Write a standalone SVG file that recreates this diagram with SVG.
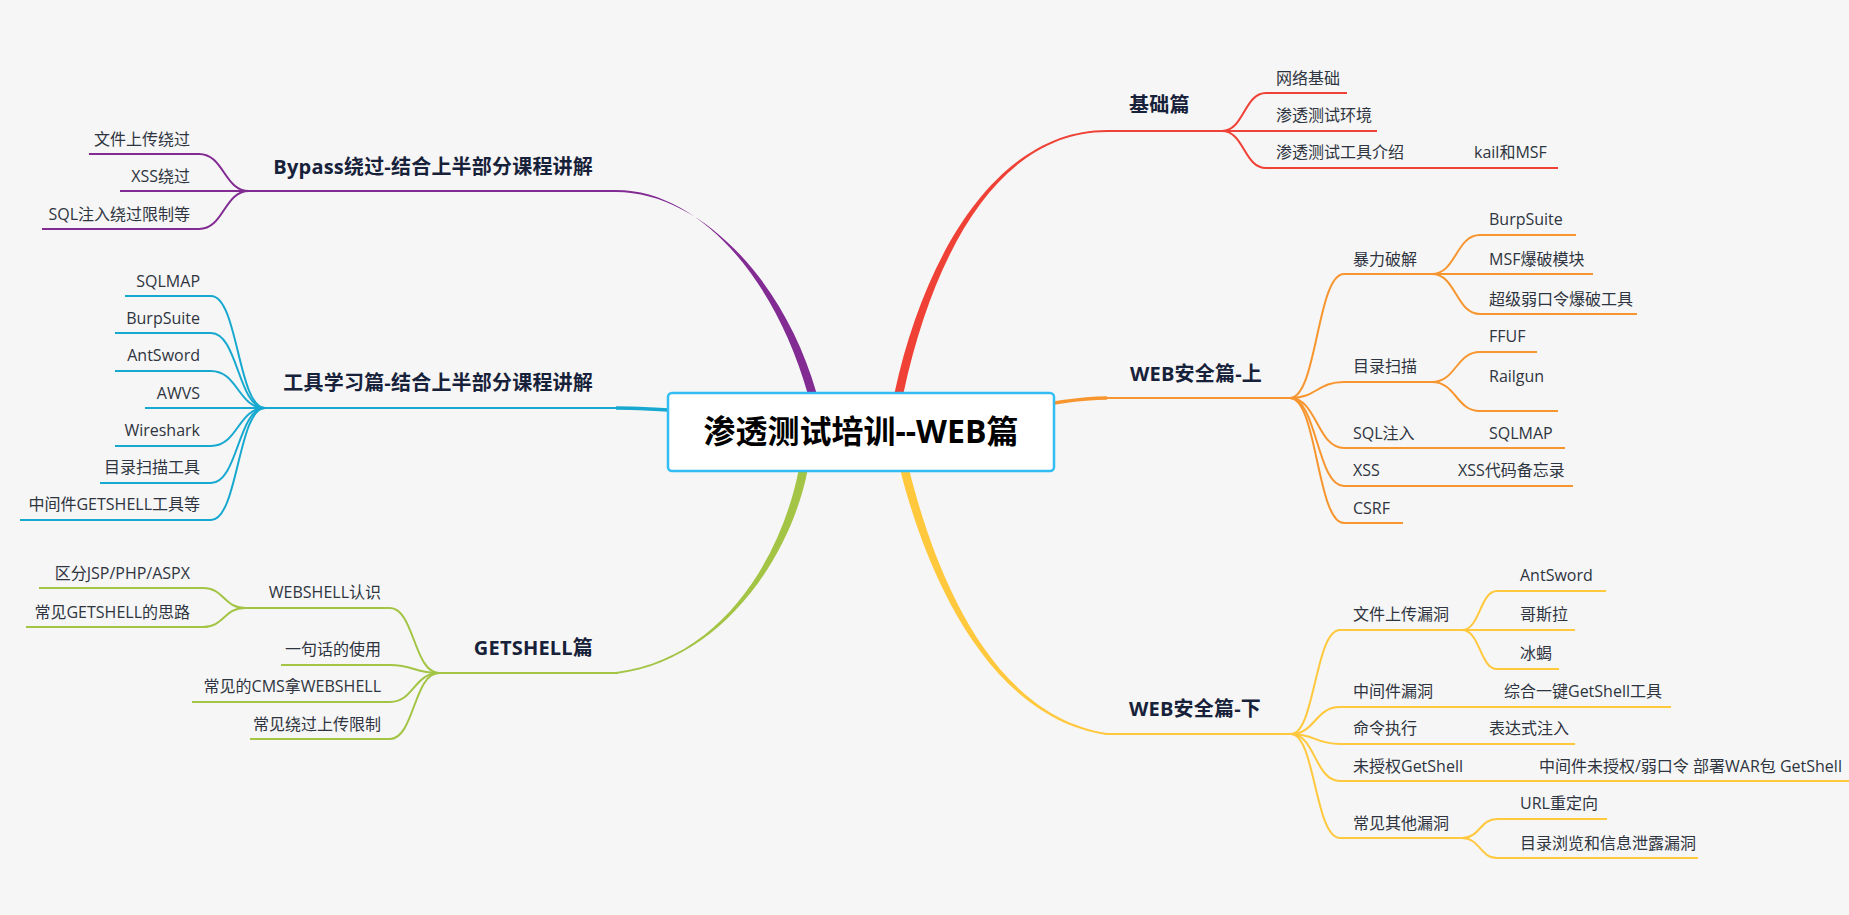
<svg xmlns="http://www.w3.org/2000/svg" width="1849" height="915" viewBox="0 0 1849 915">
<style>
.t{font-family:"Open Sans","Noto Sans CJK SC",sans-serif;font-size:16px;fill:#2e3440}
.h{font-family:"Open Sans","Noto Sans CJK SC",sans-serif;font-size:20px;font-weight:bold;fill:#17223a;letter-spacing:0.2px}
.e{text-anchor:end}
.c path{fill:none;stroke-width:2}
.pu path{stroke:#812b93}
.cy path{stroke:#17a8cf}
.gr path{stroke:#a3c444}
.re path{stroke:#ef4136}
.or path{stroke:#f7952e}
.ye path{stroke:#ffc83d}
</style>
<rect width="1849" height="915" fill="#f6f6f6"/>
<g id="connectors">
<path d="M616,190 C700,190 775.5,280 807.5,393 L816.5,393 C784.5,280 700,192 616,192 Z" fill="#812b93"/>
<path d="M1107,130 C1000,130 925.5,250 894.5,393 L903.5,393 C934.5,250 1000,132 1107,132 Z" fill="#ef4136"/>
<path d="M798.5,471 C780.5,560 720,659 616,672 L616,674 C720,661 789.5,560 807.5,471 Z" fill="#a3c444"/>
<path d="M900.5,471 C920.5,550 978,716 1107,735 L1107,733 C982,714 929.5,550 909.5,471 Z" fill="#ffc83d"/>
<path d="M1054,403 C1075,400 1085,398 1107,398" fill="none" stroke="#f7952e" stroke-width="3.5"/>
<path d="M668,410 C645,409 635,408 616,408" fill="none" stroke="#17a8cf" stroke-width="3.5"/>
<g class="c pu">
<path d="M249,191 H618"/>
<path d="M249,191 C224,191 224,154 199,154 H89"/>
<path d="M249,191 H120"/>
<path d="M249,191 C224,191 224,229 199,229 H42"/>
</g>
<g class="c cy">
<path d="M265,408 H618"/>
<path d="M265,408 C238,408 238,296 211,296 H125"/>
<path d="M265,408 C238,408 238,333 211,333 H115"/>
<path d="M265,408 C238,408 238,371 211,371 H115"/>
<path d="M265,408 H145"/>
<path d="M265,408 C238,408 238,446 211,446 H115"/>
<path d="M265,408 C238,408 238,483 211,483 H100"/>
<path d="M265,408 C238,408 238,520 211,520 H20"/>
</g>
<g class="c gr">
<path d="M439,673 H618"/>
<path d="M439,673 C414,673 414,608 390,608 H245"/>
<path d="M245,608 C224,608 224,588 203,588 H39"/>
<path d="M245,608 C224,608 224,627 203,627 H26"/>
<path d="M439,673 C414,673 414,665 390,665 H281"/>
<path d="M439,673 C414,673 414,702 390,702 H192"/>
<path d="M439,673 C414,673 414,739 390,739 H250"/>
</g>
<g class="c re">
<path d="M1105,131 H1222"/>
<path d="M1222,131 C1244,131 1244,93 1266,93 H1347"/>
<path d="M1222,131 H1377"/>
<path d="M1222,131 C1244,131 1244,168 1266,168 H1558"/>
</g>
<g class="c or">
<path d="M1105,398 H1290"/>
<path d="M1290,398 C1317,398 1317,274 1344,274 H1432"/>
<path d="M1432,274 C1456,274 1456,235 1480,235 H1576"/>
<path d="M1432,274 H1593"/>
<path d="M1432,274 C1456,274 1456,314 1480,314 H1637"/>
<path d="M1290,398 C1317,398 1317,382 1344,382 H1432"/>
<path d="M1432,382 C1456,382 1456,352 1480,352 H1537"/>
<path d="M1432,382 C1456,382 1456,411 1480,411 H1558"/>
<path d="M1290,398 C1317,398 1317,448 1344,448 H1565"/>
<path d="M1290,398 C1317,398 1317,486 1344,486 H1573"/>
<path d="M1290,398 C1317,398 1317,523 1344,523 H1403"/>
</g>
<g class="c ye">
<path d="M1105,734 H1291"/>
<path d="M1291,734 C1315,734 1315,630 1340,630 H1462"/>
<path d="M1462,630 C1480,630 1480,591 1497,591 H1606"/>
<path d="M1462,630 H1575"/>
<path d="M1462,630 C1480,630 1480,669 1497,669 H1559"/>
<path d="M1291,734 C1315,734 1315,707 1340,707 H1671"/>
<path d="M1291,734 C1315,734 1315,744 1340,744 H1575"/>
<path d="M1291,734 C1315,734 1315,781 1340,781 H1849"/>
<path d="M1291,734 C1315,734 1315,838 1340,838 H1462"/>
<path d="M1462,838 C1480,838 1480,819 1497,819 H1607"/>
<path d="M1462,838 C1480,838 1480,858 1497,858 H1698"/>
</g>
</g>
<g id="root">
<rect x="668" y="393" width="386" height="78" rx="4" fill="#ffffff" stroke="#33bdf5" stroke-width="2.5"/>
<text x="861" y="443" text-anchor="middle" font-family="'Open Sans','Noto Sans CJK SC',sans-serif" font-size="32" font-weight="bold" fill="#000">渗透测试培训--WEB篇</text>
</g>
<g id="bypass"><text class="h e" x="593" y="174">Bypass绕过-结合上半部分课程讲解</text></g>
<g id="bypass-1"><text class="t e" x="190" y="145">文件上传绕过</text></g>
<g id="bypass-2"><text class="t e" x="190" y="182">XSS绕过</text></g>
<g id="bypass-3"><text class="t e" x="190" y="220">SQL注入绕过限制等</text></g>
<g id="tools"><text class="h e" x="593" y="390">工具学习篇-结合上半部分课程讲解</text></g>
<g id="tools-1"><text class="t e" x="200" y="287">SQLMAP</text></g>
<g id="tools-2"><text class="t e" x="200" y="324">BurpSuite</text></g>
<g id="tools-3"><text class="t e" x="200" y="361">AntSword</text></g>
<g id="tools-4"><text class="t e" x="200" y="399">AWVS</text></g>
<g id="tools-5"><text class="t e" x="200" y="436">Wireshark</text></g>
<g id="tools-6"><text class="t e" x="200" y="473">目录扫描工具</text></g>
<g id="tools-7"><text class="t e" x="200" y="510">中间件GETSHELL工具等</text></g>
<g id="getshell"><text class="h e" x="593" y="655">GETSHELL篇</text></g>
<g id="getshell-1"><text class="t e" x="381" y="598">WEBSHELL认识</text></g>
<g id="getshell-1-1"><text class="t e" x="190" y="579">区分JSP/PHP/ASPX</text></g>
<g id="getshell-1-2"><text class="t e" x="190" y="618">常见GETSHELL的思路</text></g>
<g id="getshell-2"><text class="t e" x="381" y="655">一句话的使用</text></g>
<g id="getshell-3"><text class="t e" x="381" y="692">常见的CMS拿WEBSHELL</text></g>
<g id="getshell-4"><text class="t e" x="381" y="730">常见绕过上传限制</text></g>
<g id="basic"><text class="h" x="1129" y="112">基础篇</text></g>
<g id="basic-1"><text class="t" x="1276" y="84">网络基础</text></g>
<g id="basic-2"><text class="t" x="1276" y="121">渗透测试环境</text></g>
<g id="basic-3"><text class="t" x="1276" y="158">渗透测试工具介绍</text></g>
<g id="basic-3-1"><text class="t" x="1474" y="158">kail和MSF</text></g>
<g id="webup"><text class="h" x="1130" y="381">WEB安全篇-上</text></g>
<g id="webup-1"><text class="t" x="1353" y="265">暴力破解</text></g>
<g id="webup-1-1"><text class="t" x="1489" y="225">BurpSuite</text></g>
<g id="webup-1-2"><text class="t" x="1489" y="265">MSF爆破模块</text></g>
<g id="webup-1-3"><text class="t" x="1489" y="305">超级弱口令爆破工具</text></g>
<g id="webup-2"><text class="t" x="1353" y="372">目录扫描</text></g>
<g id="webup-2-1"><text class="t" x="1489" y="342">FFUF</text></g>
<g id="webup-2-2"><text class="t" x="1489" y="382">Railgun</text></g>
<g id="webup-3"><text class="t" x="1353" y="439">SQL注入</text></g>
<g id="webup-3-1"><text class="t" x="1489" y="439">SQLMAP</text></g>
<g id="webup-4"><text class="t" x="1353" y="476">XSS</text></g>
<g id="webup-4-1"><text class="t" x="1458" y="476">XSS代码备忘录</text></g>
<g id="webup-5"><text class="t" x="1353" y="514">CSRF</text></g>
<g id="webdown"><text class="h" x="1129" y="716">WEB安全篇-下</text></g>
<g id="webdown-1"><text class="t" x="1353" y="620">文件上传漏洞</text></g>
<g id="webdown-1-1"><text class="t" x="1520" y="581">AntSword</text></g>
<g id="webdown-1-2"><text class="t" x="1520" y="620">哥斯拉</text></g>
<g id="webdown-1-3"><text class="t" x="1520" y="659">冰蝎</text></g>
<g id="webdown-2"><text class="t" x="1353" y="697">中间件漏洞</text></g>
<g id="webdown-2-1"><text class="t" x="1504" y="697">综合一键GetShell工具</text></g>
<g id="webdown-3"><text class="t" x="1353" y="734">命令执行</text></g>
<g id="webdown-3-1"><text class="t" x="1489" y="734">表达式注入</text></g>
<g id="webdown-4"><text class="t" x="1353" y="772">未授权GetShell</text></g>
<g id="webdown-4-1"><text class="t" x="1539" y="772">中间件未授权/弱口令 部署WAR包 GetShell</text></g>
<g id="webdown-5"><text class="t" x="1353" y="829">常见其他漏洞</text></g>
<g id="webdown-5-1"><text class="t" x="1520" y="809">URL重定向</text></g>
<g id="webdown-5-2"><text class="t" x="1520" y="849">目录浏览和信息泄露漏洞</text></g>
</svg>
